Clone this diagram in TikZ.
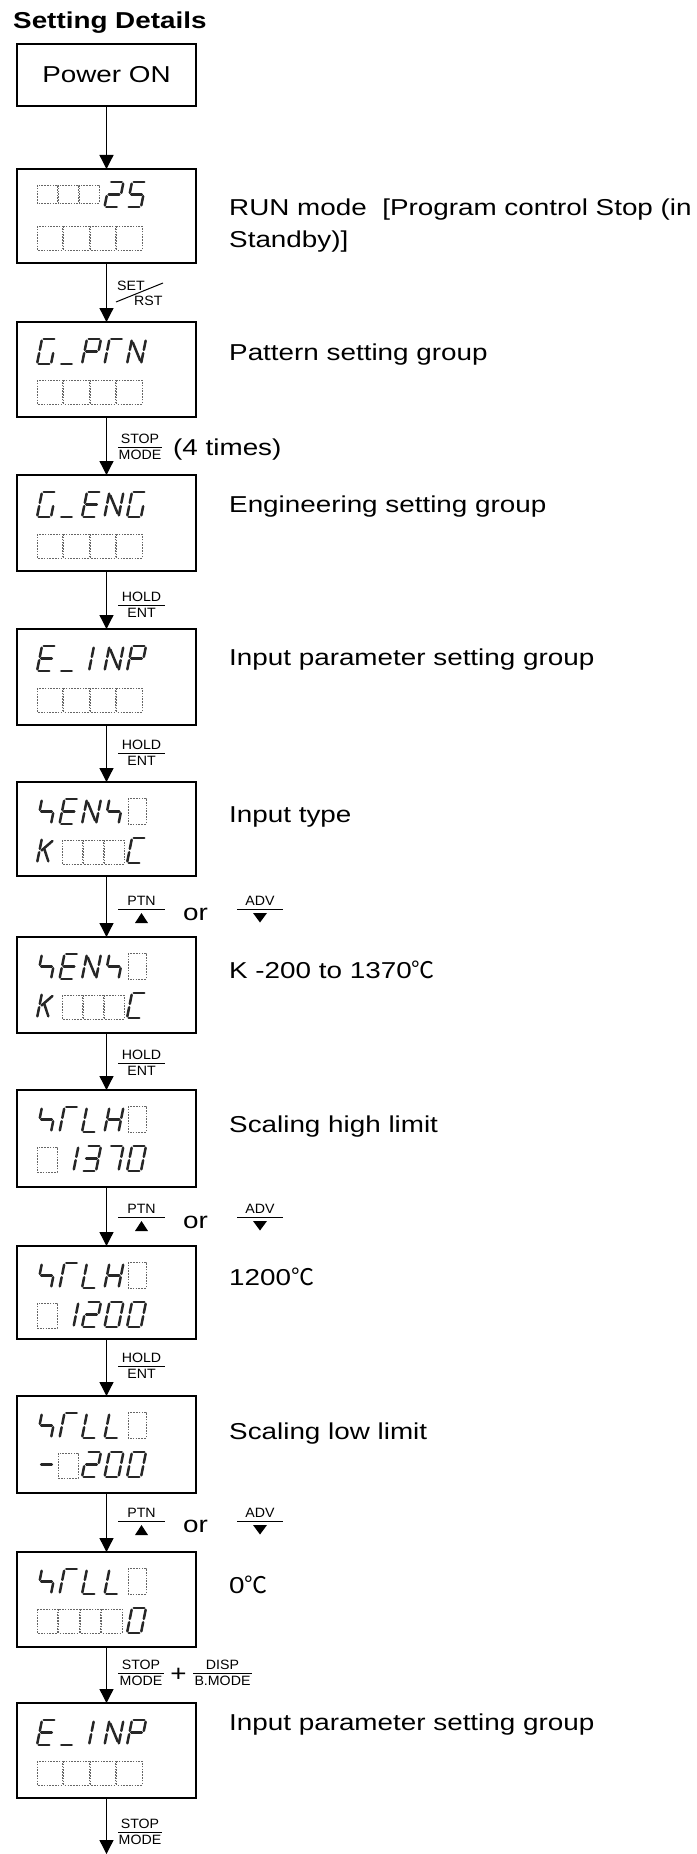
\documentclass[tikz,border=0pt]{standalone}
\usepackage{fontspec}
\setmainfont[FakeStretch=1.21]{Liberation Sans}
\newfontfamily\lblfont[FakeStretch=1.05]{Liberation Sans}
\newfontfamily\cjkfont{Noto Sans CJK JP}
\usetikzlibrary{arrows.meta}
\tikzset{
  seg/.style={line width=2.5pt, draw=black!85, line cap=round},
  dcell/.style={draw=black!60, line width=0.8pt, dash pattern=on 1.6pt off 1.2pt},
  dispbox/.style={draw, line width=1.3pt, minimum width=179pt, inner sep=0pt, outer sep=0pt, anchor=north west},
  flow/.style={line width=1.3pt, -{Triangle[width=14pt,length=14pt]}},
  maintext/.style={font=\fontsize{23}{28}\selectfont, inner sep=0pt, anchor=base west},
  titletext/.style={font=\bfseries\fontsize{23}{28}\selectfont, inner sep=0pt, anchor=base west},
  lbl/.style={font=\lblfont\fontsize{13.5}{15}\selectfont, inner sep=0pt, anchor=base},
  fracline/.style={line width=1pt},
  tri/.style={fill=black, draw=none}
}
% seven-segment pieces (local coords: u right, v up from the baseline, cell 14 x 25, slanted)
\newcommand\sgl[4]{\draw[seg] ({\dX+#1+0.2*#2},{\dY-#2}) -- ({\dX+#3+0.2*#4},{\dY-#4});}
\newcommand\segA{\sgl{1.7}{25}{12.3}{25}}
\newcommand\segB{\sgl{14}{23.3}{14}{14.2}}
\newcommand\segC{\sgl{14}{10.8}{14}{1.7}}
\newcommand\segD{\sgl{1.7}{0}{12.3}{0}}
\newcommand\segE{\sgl{0}{10.8}{0}{1.7}}
\newcommand\segF{\sgl{0}{23.3}{0}{14.2}}
\newcommand\segG{\sgl{1.7}{12.5}{12.3}{12.5}}
\newcommand\segDiag{\sgl{1.5}{21.5}{12.5}{3.5}}
\newcommand\segKu{\sgl{2}{12.5}{11}{22}}
\newcommand\segKd{\sgl{4.5}{14}{11}{1.7}}
\newcommand\chG{\segA\segF\segE\segD\segC}
\newcommand\chU{\segD}
\newcommand\chP{\segA\segB\segF\segG\segE}
\newcommand\chT{\segA\segF\segE}
\newcommand\chN{\segF\segE\segB\segC\segDiag}
\newcommand\chE{\segA\segF\segG\segE\segD}
\newcommand\chI{\segB\segC}
\newcommand\chS{\segF\segG\segC}
\newcommand\chK{\segF\segE\segKu\segKd}
\newcommand\chC{\segA\segF\segE\segD}
\newcommand\chL{\segF\segE\segD}
\newcommand\chH{\segF\segE\segB\segC\segG}
\newcommand\chZero{\segA\segB\segC\segD\segE\segF}
\newcommand\chOne{\segB\segC}
\newcommand\chTwo{\segA\segB\segG\segE\segD}
\newcommand\chThree{\segA\segB\segG\segC\segD}
\newcommand\chFive{\segA\segF\segG\segC\segD}
\newcommand\chSeven{\segA\segB\segC}
\newcommand\chMinus{\segG}
\newcommand\dig[3]{\begingroup\def\dX{#1}\def\dY{#2}#3\endgroup}
\newcommand\fivechars[6]{\dig{37}{#1}{#2}\dig{59.5}{#1}{#3}\dig{82}{#1}{#4}\dig{104.5}{#1}{#5}\dig{127}{#1}{#6}}
\newcommand\dcellbox[4]{\draw[dcell] (#1,#2) rectangle ++(#3,#4);}
\newcommand\blankrow[1]{\foreach \i in {0,1,2,3} {\draw[dcell] (37+26.5*\i,#1) rectangle ++(25.5,24);}}
\newcommand\keyfrac[6]{% name, xcenter, yline, halfwidth, top, bottom
  \node[lbl] (#1t) at (#2,#3-3.2) {#5};
  \node[lbl] (#1b) at (#2,#3+12) {#6};
  \draw[fracline] (#2-#4,#3) -- (#2+#4,#3);}
\newcommand\updown[2]{% name, yline
  \keyfrac{#1p}{141.5}{#2}{23.5}{PTN}{}
  \fill[tri] (135,#2+14) -- (148,#2+14) -- (141.5,#2+4) -- cycle;
  \node[maintext] (#1or) at (183,#2+11) {or};
  \keyfrac{#1a}{260}{#2}{23}{ADV}{}
  \fill[tri] (253,#2+4) -- (267,#2+4) -- (260,#2+13.5) -- cycle;}
\begin{document}
\begin{tikzpicture}[x=1pt,y=-1pt]
\useasboundingbox (0,0) rectangle (696,1854);
\node[titletext] (title) at (13,29) {Setting Details};
% boxes
\node[dispbox, minimum height=62pt, font=\fontsize{23}{28}\selectfont] (p) at (17,44) {Power ON};
\node[dispbox, minimum height=94pt] (b1) at (17,169) {};
\node[dispbox, minimum height=95pt] (b2) at (17,322) {};
\node[dispbox, minimum height=96pt] (b3) at (17,475) {};
\node[dispbox, minimum height=96pt] (b4) at (17,629) {};
\node[dispbox, minimum height=94pt] (b5) at (17,782) {};
\node[dispbox, minimum height=96pt] (b6) at (17,937) {};
\node[dispbox, minimum height=97pt] (b7) at (17,1090) {};
\node[dispbox, minimum height=93pt] (b8) at (17,1246) {};
\node[dispbox, minimum height=97pt] (b9) at (17,1396) {};
\node[dispbox, minimum height=95pt] (b10) at (17,1552) {};
\node[dispbox, minimum height=95pt] (b11) at (17,1703) {};
\coordinate (endpt) at (106.5,1854);
% arrows
\draw[flow] (p.south) -- (b1.north);
\draw[flow] (b1.south) -- (b2.north);
\draw[flow] (b2.south) -- (b3.north);
\draw[flow] (b3.south) -- (b4.north);
\draw[flow] (b4.south) -- (b5.north);
\draw[flow] (b5.south) -- (b6.north);
\draw[flow] (b6.south) -- (b7.north);
\draw[flow] (b7.south) -- (b8.north);
\draw[flow] (b8.south) -- (b9.north);
\draw[flow] (b9.south) -- (b10.north);
\draw[flow] (b10.south) -- (b11.north);
\draw[flow] (b11.south) -- (endpt);
% displays
% B1
\dcellbox{37}{185}{20}{18}\dcellbox{58}{185}{20}{18}\dcellbox{79}{185}{20}{18}
\fivechars{207}{}{}{}{\chTwo}{\chFive}
\blankrow{226}
% B2
\fivechars{364}{\chG}{\chU}{\chP}{\chT}{\chN}
\blankrow{380}
% B3
\fivechars{517}{\chG}{\chU}{\chE}{\chN}{\chG}
\blankrow{534}
% B4
\fivechars{671}{\chE}{\chU}{}{\chN}{\chP}
\dig{75}{671}{\chI}
\blankrow{688}
% B5
\fivechars{824}{\chS}{\chE}{\chN}{\chS}{}
\dcellbox{128}{798}{18}{26}
\fivechars{863}{\chK}{}{}{}{\chC}
\dcellbox{62}{840}{20}{24}\dcellbox{83}{840}{20}{24}\dcellbox{104}{840}{20}{24}
% B6
\fivechars{979}{\chS}{\chE}{\chN}{\chS}{}
\dcellbox{128}{953}{18}{26}
\fivechars{1018}{\chK}{}{}{}{\chC}
\dcellbox{62}{995}{20}{24}\dcellbox{83}{995}{20}{24}\dcellbox{104}{995}{20}{24}
% B7
\fivechars{1132}{\chS}{\chT}{\chL}{\chH}{}
\dcellbox{128}{1106}{18}{26}
\fivechars{1171}{}{\chOne}{\chThree}{\chSeven}{\chZero}
\dcellbox{37}{1147}{20}{25}
% B8
\fivechars{1288}{\chS}{\chT}{\chL}{\chH}{}
\dcellbox{128}{1262}{18}{26}
\fivechars{1327}{}{\chOne}{\chTwo}{\chZero}{\chZero}
\dcellbox{37}{1303}{20}{25}
% B9
\fivechars{1438}{\chS}{\chT}{\chL}{\chL}{}
\dcellbox{128}{1412}{18}{26}
\fivechars{1477}{\chMinus}{}{\chTwo}{\chZero}{\chZero}
\dcellbox{58}{1453}{20}{25}
% B10
\fivechars{1594}{\chS}{\chT}{\chL}{\chL}{}
\dcellbox{128}{1568}{18}{26}
\fivechars{1633}{}{}{}{}{\chZero}
\dcellbox{37}{1609}{20.5}{24}\dcellbox{58.5}{1609}{20.5}{24}\dcellbox{80}{1609}{20.5}{24}\dcellbox{101.5}{1609}{20.5}{24}
% B11
\fivechars{1745}{\chE}{\chU}{}{\chN}{\chP}
\dig{75}{1745}{\chI}
\blankrow{1761}
% right texts
\node[maintext] (t1a) at (229,215) {RUN mode~ [Program control Stop (in};
\node[maintext] (t1b) at (229,247) {Standby)]};
\node[maintext] (t2) at (229,360) {Pattern setting group};
\node[maintext] (t3) at (229,512) {Engineering setting group};
\node[maintext] (t4) at (229,665) {Input parameter setting group};
\node[maintext] (t5) at (229,822) {Input type};
\node[maintext] (t6) at (229,978) {K -200 to 1370{\cjkfont ℃}};
\node[maintext] (t7) at (229,1132) {Scaling high limit};
\node[maintext] (t8) at (229,1285) {1200{\cjkfont ℃}};
\node[maintext] (t9) at (229,1439) {Scaling low limit};
\node[maintext] (t10) at (229,1593) {0{\cjkfont ℃}};
\node[maintext] (t11) at (229,1730) {Input parameter setting group};
% key labels
\node[lbl, anchor=base west] (setk) at (117,290) {SET};
\node[lbl, anchor=base west] (rstk) at (134,305) {RST};
\draw[fracline] (116,302) -- (163,283);
\keyfrac{k1}{140}{447}{22}{STOP}{MODE}
\node[maintext] (times) at (173,455) {(4 times)};
\keyfrac{k2}{141.5}{605}{23.5}{HOLD}{ENT}
\keyfrac{k3}{141.5}{753}{23.5}{HOLD}{ENT}
\updown{u1}{909}
\keyfrac{k4}{141.5}{1063}{23.5}{HOLD}{ENT}
\updown{u2}{1217}
\keyfrac{k5}{141.5}{1366}{23.5}{HOLD}{ENT}
\updown{u3}{1521}
\keyfrac{k6}{141}{1673}{23}{STOP}{MODE}
\node[maintext, anchor=base] (plus) at (178.5,1681) {+};
\keyfrac{k7}{222.5}{1673}{29.5}{DISP}{B.MODE}
\keyfrac{k8}{140}{1832}{22}{STOP}{MODE}
\end{tikzpicture}
\end{document}
